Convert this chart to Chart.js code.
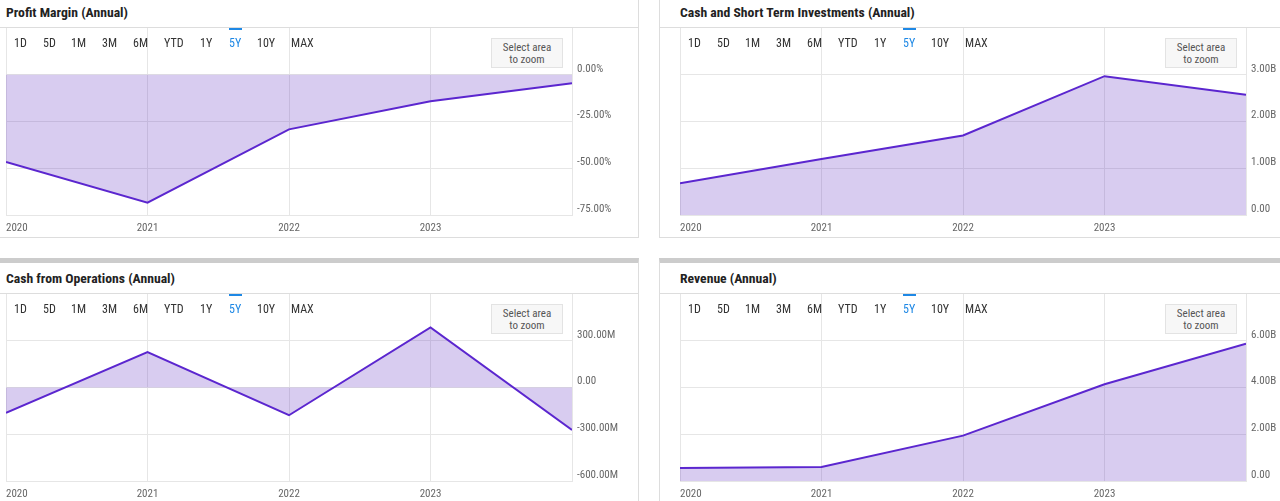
<!DOCTYPE html>
<html>
<head>
<meta charset="utf-8">
<script src="https://cdn.jsdelivr.net/npm/chart.js@4.4.1/dist/chart.umd.min.js"></script>
<style>
  body { margin: 0; width: 1280px; height: 501px; overflow: hidden; background: #fff; position: relative;
         font-family: 'Liberation Sans Narrow', 'Roboto Condensed', Roboto, sans-serif; }
  .panel { position: absolute; box-sizing: border-box; background: #fff; border: 1px solid #ddd; border-top: 5px solid #ccc; }
  .title { position: absolute; font-weight: bold; font-size: 13.7px; line-height: 16px; color: #222; white-space: nowrap; }
  .divider { position: absolute; height: 1px; background: #ddd; }
  .btn { position: absolute; font-size: 12px; line-height: 14px; color: #333; }
  .btn.on { color: #1e88e5; }
  .bar { position: absolute; height: 2px; width: 13px; background: #1e88e5; }
  .zoomBox { position: absolute; box-sizing: border-box; width: 72px; height: 30px; padding-top: 3px;
             background: #f7f7f7; border: 1px solid #e3e3e3; font-size: 11px; line-height: 12px;
             color: #555; text-align: center; }
  canvas { position: absolute; }
</style>
</head>
<body>
<script>
// data
const years = [2020, 2021, 2022, 2023, 2024];
const yearTicks = [2020, 2021, 2022, 2023, 2024];

const profitMargin = [-46.6, -68.4, -29.2, -14.2, -4.5];   // %
const cashShortTerm = [0.68, 1.20, 1.70, 2.97, 2.57];     // B
const cashFromOps = [-163, 227, -178, 386, -272];         // M
const revenue = [0.56, 0.60, 1.94, 4.14, 5.87];           // B

const marginTicks = [-75, -50, -25, 0];
const cashTicks = [0, 1, 2, 3];
const opsTicks = [-600, -300, 0, 300];
const revenueTicks = [0, 2, 4, 6];

const buttons = ['1D', '5D', '1M', '3M', '6M', 'YTD', '1Y', '5Y', '10Y', 'MAX'];
const btnX = [8, 37, 65, 96, 127, 158, 194, 223, 251, 285];

const FONT = "'Liberation Sans Narrow', 'Roboto Condensed', Roboto, sans-serif";
const LINE = '#5b26cf';
const FILL = 'rgba(99, 51, 195, 0.25)';
const GRID = '#e6e6e6';
const TICK = '#666';

function el(cls, css, text) {
  const d = document.createElement('div');
  d.className = cls;
  Object.assign(d.style, css);
  if (text) d.innerHTML = text;
  document.body.appendChild(d);
  return d;
}

function makePanel(id, title, panelLeft, plotLeft, dy, values, yMin, yMax, yTicks, fmt) {
  el('panel', { left: panelLeft + 'px', top: (dy ? 258 : -10) + 'px', width: (panelLeft < 0 ? 640 : 700) + 'px', height: (dy ? 300 : 248) + 'px' });
  el('title', { left: plotLeft + 'px', top: (4 + dy) + 'px' }, title);
  el('divider', { left: (panelLeft + 1) + 'px', top: (27 + dy) + 'px', width: (panelLeft < 0 ? 638 : 698) + 'px' });

  const canvas = document.createElement('canvas');
  canvas.id = id;
  canvas.width = 632;
  canvas.height = 209;
  canvas.style.left = plotLeft + 'px';
  canvas.style.top = (28 + dy) + 'px';
  document.body.appendChild(canvas);

  buttons.forEach((b, i) => {
    el('btn' + (b === '5Y' ? ' on' : ''), { left: (plotLeft + btnX[i]) + 'px', top: (36 + dy) + 'px' }, b);
  });
  el('bar', { left: (plotLeft + 223) + 'px', top: (28 + dy) + 'px' });
  el('zoomBox', { left: (plotLeft + 485) + 'px', top: (38 + dy) + 'px' }, 'Select area<br>to zoom');

  new Chart(canvas, {
    type: 'line',
    data: {
      datasets: [{
        data: years.map((x, i) => ({ x: x, y: values[i] })),
        borderColor: LINE,
        backgroundColor: FILL,
        borderWidth: 2,
        fill: 'origin',
        pointRadius: 0,
        tension: 0,
      }],
    },
    options: {
      responsive: false,
      animation: false,
      plugins: { legend: { display: false }, tooltip: { enabled: false } },
      scales: {
        x: {
          type: 'linear',
          min: 2020,
          max: 2024,
          afterBuildTicks: s => { s.ticks = yearTicks.map(v => ({ value: v })); },
          afterFit: s => { s.height = 22; s.paddingLeft = 0; s.paddingRight = 0; },
          grid: { color: GRID, drawTicks: false },
          border: { color: GRID },
          ticks: {
            align: 'inner', autoSkip: false, maxRotation: 0, padding: 7, color: TICK,
            font: { family: FONT, size: 11 },
            callback: v => (v === 2024 ? '' : String(v)),
          },
        },
        y: {
          position: 'right',
          min: yMin,
          max: yMax,
          afterBuildTicks: s => { s.ticks = yTicks.map(v => ({ value: v })); },
          afterFit: s => { s.width = 66; s.paddingTop = 0; s.paddingBottom = 0; },
          grid: { color: GRID, drawTicks: false },
          border: { color: GRID },
          ticks: {
            padding: 5, labelOffset: -6, color: TICK,
            font: { family: FONT, size: 11 },
            callback: fmt,
          },
        },
      },
    },
  });
}

const pct = v => v.toFixed(2) + '%';
const bil = v => (v === 0 ? '0.00' : v.toFixed(2) + 'B');
const mil = v => (v === 0 ? '0.00' : v.toFixed(2) + 'M');

makePanel('chart1', 'Profit Margin (Annual)', -1, 6, 0, profitMargin, -75, 25, marginTicks, pct);
makePanel('chart2', 'Cash and Short Term Investments (Annual)', 659, 680, 0, cashShortTerm, 0, 4, cashTicks, bil);
makePanel('chart3', 'Cash from Operations (Annual)', -1, 6, 266, cashFromOps, -600, 600, opsTicks, mil);
makePanel('chart4', 'Revenue (Annual)', 659, 680, 266, revenue, 0, 8, revenueTicks, bil);
</script>
</body>
</html>
